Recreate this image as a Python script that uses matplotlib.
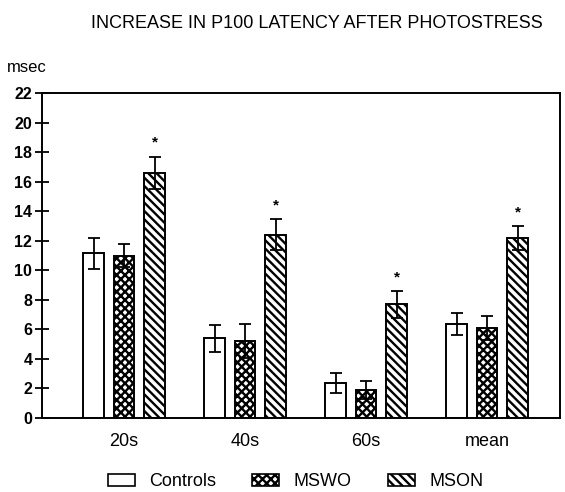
import matplotlib
matplotlib.use("Agg")
import matplotlib.pyplot as plt
import numpy as np
from matplotlib.patches import Patch

categories = ["20s", "40s", "60s", "mean"]
series = ["Controls", "MSWO", "MSON"]
controls = [11.15, 5.4, 2.4, 6.35]
controls_err = [1.05, 0.9, 0.68, 0.75]
mswo = [11.0, 5.2, 1.9, 6.1]
mswo_err = [0.8, 1.15, 0.6, 0.8]
mson = [16.6, 12.4, 7.7, 12.2]
mson_err = [1.1, 1.05, 0.9, 0.8]
significant = [True, True, True, True]
yticks = [0, 2, 4, 6, 8, 10, 12, 14, 16, 18, 20, 22]

plt.rcParams['font.family'] = ['Liberation Sans', 'DejaVu Sans']
plt.rcParams['hatch.linewidth'] = 1.7

fig = plt.figure(figsize=(5.65, 4.92), dpi=100)
ax = fig.add_axes([42/565, 1-418/492, (560-42)/565, (418-93)/492])

x = np.arange(len(categories))
off = 0.252
w = 0.17
styles = [dict(facecolor="white", hatch=None),
          dict(facecolor="white", hatch="xxxx"),
          dict(facecolor="white", hatch="\\\\\\\\")]
data = [(controls, controls_err), (mswo, mswo_err), (mson, mson_err)]
for i, ((vals, errs), st) in enumerate(zip(data, styles)):
    pos = x + (i - 1) * off
    ax.bar(pos, vals, width=w, edgecolor="black", linewidth=1.4, zorder=2, **st)
    ax.errorbar(pos, vals, yerr=errs, fmt="none", ecolor="black", elinewidth=1.3,
                capsize=4, capthick=1.3, zorder=3)

for xi, v, e, s in zip(x + off, mson, mson_err, significant):
    if s:
        ax.text(xi, v + e + 0.45, "*", ha="center", va="bottom", fontsize=11,
                fontweight="bold")

ax.set_xlim(-0.678, 3.603)
ax.set_ylim(0, 22)
ax.set_yticks(yticks)
ax.set_yticklabels([str(t) for t in yticks], fontsize=11.5, fontweight="semibold")
ax.tick_params(axis="y", direction="inout", length=10, width=1.3, pad=2)
ax.set_xticks(x)
ax.set_xticklabels(categories, fontsize=13)
ax.tick_params(axis="x", length=0, pad=11)
for sp in ax.spines.values():
    sp.set_linewidth(1.4)

fig.text(317/565, 1-24/492, "INCREASE IN P100 LATENCY AFTER PHOTOSTRESS",
         ha="center", va="center", fontsize=13, fontstretch="condensed",
         family=['Liberation Sans Narrow', 'Liberation Sans', 'DejaVu Sans'])
fig.text(7/565, 1-68/492, "msec", ha="left", va="center", fontsize=12)

handles = [Patch(facecolor="white", edgecolor="black", hatch=st["hatch"], linewidth=1.2)
           for st in styles]
fig.legend(handles, series, loc="center", bbox_to_anchor=(0.523, 1-482/492), ncol=3,
           frameon=False, fontsize=13, handlelength=1.5, handleheight=0.6,
           columnspacing=2.0, handletextpad=0.8)

fig.savefig("out.png", dpi=100)
